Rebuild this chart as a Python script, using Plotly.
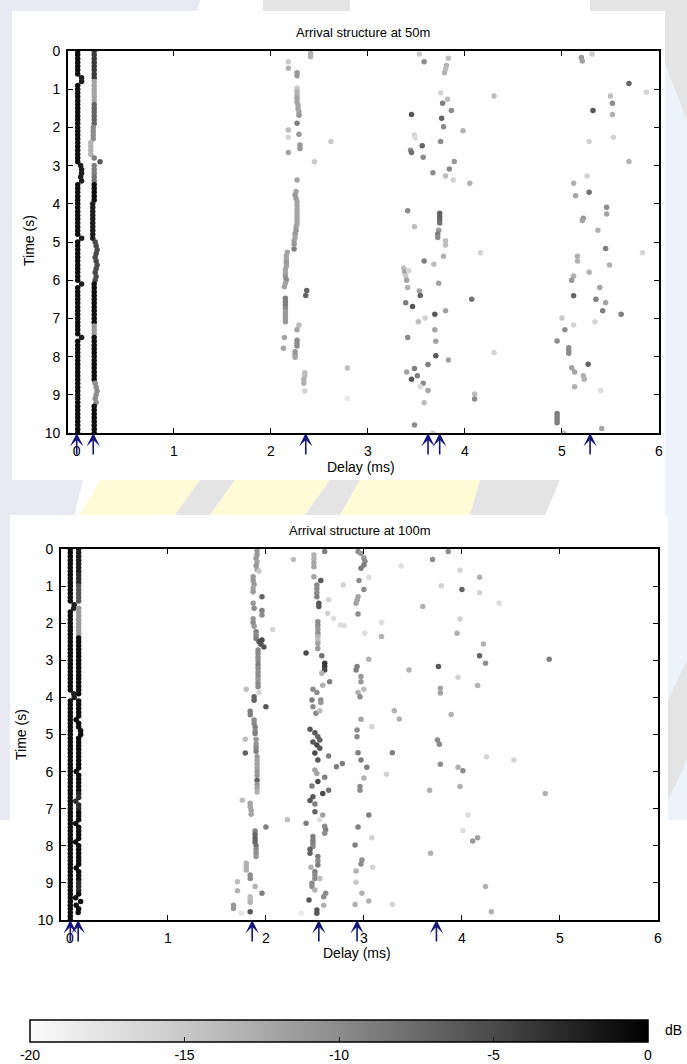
import plotly.graph_objects as go

W, H = 687, 1064
FONT = "Liberation Sans, Arial, sans-serif"

# ---------------- data ----------------
# regular time samples (s) of the two strong, continuous arrivals
T_GRID = [0.0, 0.1, 0.2, 0.3, 0.4, 0.5, 0.6, 0.7, 0.8, 0.9,
          1.0, 1.1, 1.2, 1.3, 1.4, 1.5, 1.6, 1.7, 1.8, 1.9,
          2.0, 2.1, 2.2, 2.3, 2.4, 2.5, 2.6, 2.7, 2.8, 2.9,
          3.0, 3.1, 3.2, 3.3, 3.4, 3.5, 3.6, 3.7, 3.8, 3.9,
          4.0, 4.1, 4.2, 4.3, 4.4, 4.5, 4.6, 4.7, 4.8, 4.9,
          5.0, 5.1, 5.2, 5.3, 5.4, 5.5, 5.6, 5.7, 5.8, 5.9,
          6.0, 6.1, 6.2, 6.3, 6.4, 6.5, 6.6, 6.7, 6.8, 6.9,
          7.0, 7.1, 7.2, 7.3, 7.4, 7.5, 7.6, 7.7, 7.8, 7.9,
          8.0, 8.1, 8.2, 8.3, 8.4, 8.5, 8.6, 8.7, 8.8, 8.9,
          9.0, 9.1, 9.2, 9.3, 9.4, 9.5, 9.6, 9.7, 9.8, 9.9,
          10.0]

# 50 m : direct arrival (A) and first reflection (B) - delay (ms) and level (dB)
D50_A_DELAY = [0.01, 0.01, 0.01, 0.01, 0.01, 0.01, 0.01, 0.05, 0.05, 0.01,
               0.01, 0.01, 0.01, 0.01, 0.01, 0.01, 0.01, 0.01, 0.01, 0.01,
               0.01, 0.01, 0.01, 0.01, 0.01, 0.01, 0.01, 0.01, 0.01, 0.01,
               0.04, 0.05, 0.05, 0.04, 0.05, 0.01, 0.01, 0.01, 0.01, 0.01,
               0.01, 0.01, 0.01, 0.01, 0.01, 0.01, 0.01, 0.01, 0.01, 0.05,
               0.01, 0.01, 0.01, 0.01, 0.01, 0.01, 0.01, 0.01, 0.01, 0.01,
               0.01, 0.05, 0.01, 0.01, 0.01, 0.01, 0.01, 0.01, 0.01, 0.01,
               0.01, 0.01, 0.01, 0.01, 0.01, 0.05, 0.01, 0.01, 0.01, 0.01,
               0.01, 0.01, 0.01, 0.01, 0.01, 0.01, 0.01, 0.01, 0.01, 0.01,
               0.01, 0.01, 0.01, 0.01, 0.01, 0.01, 0.01, 0.01, 0.01, 0.01,
               0.01]
D50_A_DB = [-1, -1, -1, -1, -1, -1, -1, -2, -2, -1,
            -1, -1, -1, -1, -1, -1, -1, -1, -1, -1,
            -1, -1, -1, -1, -1, -1, -1, -1, -1, -1,
            -2, -2, -2, -2, -2, -1, -1, -1, -1, -1,
            -1, -1, -1, -1, -1, -1, -1, -1, -1, -2,
            -1, -1, -1, -1, -1, -1, -1, -1, -1, -1,
            -1, -2, -1, -1, -1, -1, -1, -1, -1, -1,
            -1, -1, -1, -1, -1, -2, -1, -1, -1, -1,
            -1, -1, -1, -1, -1, -1, -1, -1, -1, -1,
            -1, -1, -1, -1, -1, -1, -1, -1, -1, -1,
            -1]
D50_B_DELAY = [0.18, 0.18, 0.18, 0.18, 0.18, 0.18, 0.18, 0.18, 0.18, 0.18,
               0.18, 0.18, 0.18, 0.18, 0.18, 0.18, 0.18, 0.18, 0.18, 0.18,
               0.17, 0.17, 0.17, 0.17, 0.145, 0.145, 0.145, 0.145, 0.18, 0.24,
               0.18, 0.18, 0.18, 0.18, 0.18, 0.18, 0.18, 0.18, 0.18, 0.18,
               0.165, 0.165, 0.165, 0.165, 0.165, 0.165, 0.165, 0.165, 0.165, 0.165,
               0.19, 0.20, 0.21, 0.20, 0.19, 0.20, 0.21, 0.20, 0.19, 0.20,
               0.19, 0.18, 0.18, 0.18, 0.18, 0.18, 0.18, 0.18, 0.18, 0.18,
               0.18, 0.18, 0.18, 0.18, 0.18, 0.18, 0.18, 0.18, 0.18, 0.18,
               0.18, 0.18, 0.18, 0.18, 0.18, 0.18, 0.18, 0.19, 0.20, 0.21,
               0.20, 0.19, 0.20, 0.18, 0.18, 0.18, 0.18, 0.18, 0.18, 0.18,
               0.18]
D50_B_DB = [-4, -4, -4, -4, -4, -4, -4, -4, -12, -12,
            -12, -12, -12, -12, -7, -7, -7, -7, -7, -7,
            -10, -10, -10, -10, -13, -13, -13, -13, -9, -6,
            -9, -9, -9, -8, -8, -1, -1, -1, -1, -1,
            -2, -2, -2, -2, -2, -2, -2, -2, -2, -2,
            -5, -5, -5, -5, -5, -5, -5, -5, -5, -5,
            -5, -1, -1, -1, -1, -1, -1, -1, -1, -1,
            -1, -1, -11, -11, -11, -1, -1, -1, -1, -1,
            -1, -1, -1, -1, -1, -1, -1, -10, -10, -10,
            -10, -10, -10, -1, -1, -1, -1, -1, -1, -1,
            -1]

# 100 m : direct arrival (A) and first reflection (B); None = no detection
D100_A_DELAY = [0.005, 0.005, 0.005, 0.005, 0.005, 0.005, 0.005, 0.005, 0.005, 0.005,
                0.005, 0.005, 0.005, 0.005, 0.005, 0.045, 0.04, 0.005, 0.005, 0.005,
                0.005, 0.005, 0.005, 0.005, 0.005, 0.005, 0.005, 0.005, 0.005, 0.005,
                0.005, 0.005, 0.005, 0.005, 0.005, 0.005, 0.005, 0.005, 0.005, 0.04,
                0.045, 0.005, 0.005, 0.005, 0.005, 0.005, 0.005, 0.005, 0.005, 0.005,
                0.005, 0.005, 0.005, 0.005, 0.005, 0.005, 0.005, 0.005, 0.005, 0.005,
                0.005, 0.005, 0.005, 0.005, 0.005, 0.005, 0.005, 0.005, 0.005, 0.005,
                0.005, 0.005, 0.005, 0.005, 0.005, 0.005, 0.005, 0.005, 0.005, 0.005,
                0.005, 0.005, 0.005, 0.005, 0.005, 0.005, 0.005, 0.005, 0.005, 0.005,
                0.005, 0.005, 0.005, 0.005, 0.005, 0.005, 0.005, 0.005, 0.005, 0.005,
                0.005]
D100_A_DB = [-1, -1, -1, -1, -1, -1, -1, -1, -1, -1,
             -1, -1, -1, -1, -1, -2, -2, -1, -1, -1,
             -1, -1, -1, -1, -1, -1, -1, -1, -1, -1,
             -1, -1, -1, -1, -1, -1, -1, -1, -1, -2,
             -2, -1, -1, -1, -1, -1, -1, -1, -1, -1,
             -1, -1, -1, -1, -1, -1, -1, -1, -1, -1,
             -1, -1, -1, -1, -1, -1, -1, -1, -1, -1,
             -1, -1, -1, -1, -1, -1, -1, -1, -1, -1,
             -1, -1, -1, -1, -1, -1, -1, -1, -1, -1,
             -1, -1, -1, -1, -1, -1, -1, -1, -1, -1,
             -1]
D100_B_DELAY = [0.09, 0.09, 0.09, 0.09, 0.09, 0.09, 0.09, 0.09, 0.09, 0.09,
                0.09, 0.09, 0.09, 0.09, 0.09, None, 0.09, 0.09, 0.09, 0.09,
                0.09, 0.09, 0.09, 0.09, 0.09, 0.09, 0.09, 0.09, 0.09, 0.09,
                0.09, 0.09, 0.09, 0.09, 0.09, 0.09, 0.09, 0.09, 0.09, 0.09,
                None, 0.09, 0.09, 0.09, 0.09, 0.09, 0.065, 0.09, 0.09, 0.11,
                0.11, 0.09, 0.09, 0.09, 0.09, 0.09, 0.09, 0.09, 0.09, 0.09,
                0.065, 0.09, 0.09, 0.09, 0.09, 0.09, 0.09, 0.09, 0.06, 0.09,
                0.09, 0.09, 0.09, 0.09, 0.06, 0.09, 0.09, 0.09, 0.09, 0.06,
                0.09, 0.09, 0.09, 0.09, 0.09, 0.09, 0.065, 0.09, 0.09, 0.09,
                0.09, 0.09, 0.09, 0.09, 0.06, 0.11, 0.065, 0.09, 0.085, None,
                None]
D100_B_DB = [-2, -2, -2, -2, -2, -2, -2, -3, -3, -3,
             -6, -6, -6, -6, -6, -6, -11, -11, -11, -11,
             -11, -11, -11, -11, -1, -1, -1, -1, -1, -1,
             -1, -1, -1, -1, -1, -1, -1, -1, -1, -1,
             -1, -1, -1, -1, -1, -1, -1, -1, -1, -1,
             -1, -1, -1, -1, -1, -1, -1, -1, -1, -1,
             -1, -1, -1, -1, -1, -1, -3, -3, -3, -3,
             -3, -1, -1, -1, -1, -1, -1, -1, -1, -1,
             -1, -1, -1, -1, -1, -1, -1, -1, -1, -1,
             -3, -3, -3, -1, -1, -1, -1, -1, -1, -1,
             -1]

# scattered later arrivals: (delay ms, time s, level dB)
S50_NEAR_2 = [(2.41, 0.06, -13), (2.41, 0.15, -13), (2.18, 0.28, -15), (2.18, 0.45, -13),
              (2.27, 0.57, -11), (2.27, 0.65, -11), (2.27, 0.97, -15), (2.27, 1.06, -13),
              (2.27, 1.15, -13), (2.27, 1.24, -12), (2.27, 1.33, -12), (2.28, 1.42, -12),
              (2.28, 1.51, -12), (2.29, 1.60, -12), (2.29, 1.68, -11), (2.27, 1.89, -9),
              (2.18, 2.07, -14), (2.29, 2.18, -11), (2.18, 2.26, -16), (2.30, 2.46, -11),
              (2.30, 2.55, -11), (2.62, 2.37, -15), (2.18, 2.66, -12), (2.45, 2.90, -15),
              (2.27, 3.38, -12), (2.26, 3.68, -12), (2.25, 3.77, -11), (2.26, 3.86, -11),
              (2.27, 3.95, -12), (2.27, 4.05, -12), (2.27, 4.16, -12), (2.27, 4.25, -12),
              (2.27, 4.34, -12), (2.27, 4.43, -12), (2.27, 4.52, -12), (2.26, 4.61, -12),
              (2.26, 4.70, -11), (2.25, 4.79, -11), (2.25, 4.88, -12), (2.24, 4.97, -12),
              (2.24, 5.05, -11), (2.24, 5.18, -9), (2.17, 5.27, -12), (2.16, 5.36, -12),
              (2.16, 5.45, -12), (2.16, 5.54, -11), (2.16, 5.63, -12), (2.15, 5.72, -12),
              (2.15, 5.81, -12), (2.15, 5.90, -11), (2.16, 5.99, -10), (2.15, 6.08, -12),
              (2.14, 6.17, -12), (2.15, 6.47, -9), (2.15, 6.56, -9), (2.15, 6.65, -9),
              (2.15, 6.74, -10), (2.15, 6.83, -11), (2.15, 6.92, -11), (2.15, 7.01, -11),
              (2.15, 7.09, -11), (2.37, 6.27, -7), (2.36, 6.40, -7), (2.29, 7.17, -14),
              (2.27, 7.30, -12), (2.14, 7.50, -12), (2.13, 7.78, -12), (2.27, 7.57, -10),
              (2.27, 7.66, -10), (2.27, 7.72, -10), (2.25, 7.87, -11), (2.25, 7.95, -11),
              (2.25, 8.02, -12), (2.35, 8.42, -14), (2.35, 8.50, -14), (2.34, 8.60, -13),
              (2.34, 8.70, -13), (2.35, 8.90, -16), (2.79, 8.30, -14), (2.79, 9.10, -18)]
S50_NEAR_35 = [(3.53, 0.08, -15), (3.58, 0.28, -10), (3.83, 0.19, -14), (3.81, 0.38, -13),
               (3.80, 0.47, -14), (3.79, 0.57, -13), (3.75, 1.09, -16), (3.77, 1.37, -9),
               (3.82, 1.26, -14), (3.86, 1.56, -10), (3.45, 1.66, -6), (3.76, 1.76, -7),
               (3.78, 1.98, -10), (3.98, 2.09, -13), (3.48, 2.20, -16), (3.49, 2.28, -17),
               (3.56, 2.48, -7), (3.75, 2.37, -10), (3.44, 2.60, -10), (3.45, 2.66, -8),
               (3.57, 2.78, -10), (3.89, 2.89, -11), (3.84, 3.09, -10), (3.67, 3.19, -10),
               (3.80, 3.27, -14), (3.88, 3.38, -16), (4.05, 3.46, -13), (3.41, 4.18, -10),
               (3.48, 4.60, -14), (3.74, 4.25, -7), (3.74, 4.33, -7), (3.74, 4.41, -7),
               (3.74, 4.50, -8), (3.73, 4.69, -11), (3.72, 4.79, -9), (3.72, 4.88, -10),
               (3.80, 4.97, -14), (3.80, 5.08, -14), (4.30, 1.18, -14), (3.58, 5.50, -9),
               (3.68, 5.58, -14), (3.78, 5.37, -13), (3.37, 5.68, -14), (3.38, 5.78, -12),
               (3.42, 5.75, -16), (3.39, 5.89, -15), (3.40, 6.00, -12), (3.73, 6.08, -12),
               (3.41, 6.19, -13), (3.53, 6.28, -12), (3.54, 6.40, -7), (3.39, 6.59, -9),
               (3.46, 6.69, -6), (3.69, 6.89, -6), (3.80, 6.80, -12), (3.59, 6.99, -16),
               (3.52, 7.09, -14), (3.69, 7.30, -12), (3.41, 7.50, -10), (3.70, 7.60, -12),
               (3.70, 7.98, -6), (3.83, 8.09, -12), (3.62, 8.21, -9), (3.40, 8.40, -12),
               (3.48, 8.31, -9), (3.51, 8.50, -9), (3.45, 8.59, -6), (3.57, 8.70, -10),
               (3.54, 8.79, -17), (3.62, 8.89, -12), (3.58, 9.21, -14), (3.48, 9.79, -10),
               (3.67, 10.0, -16), (4.07, 6.50, -8), (4.30, 7.89, -16), (4.10, 8.98, -14),
               (4.10, 9.11, -10), (4.16, 5.28, -16)]
S50_NEAR_5 = [(5.20, 0.17, -11), (5.21, 0.26, -12), (5.31, 0.08, -15), (5.69, 0.85, -7),
              (5.87, 1.08, -16), (5.50, 1.18, -14), (5.52, 1.37, -10), (5.32, 1.56, -6),
              (5.52, 1.66, -13), (5.53, 2.26, -16), (5.28, 2.37, -16), (5.69, 2.89, -13),
              (5.26, 3.27, -16), (5.12, 3.46, -13), (5.28, 3.70, -8), (5.14, 3.79, -12),
              (5.46, 4.09, -10), (5.46, 4.27, -12), (5.22, 4.38, -11), (5.21, 4.44, -12),
              (5.37, 4.69, -13), (5.45, 5.17, -9), (5.83, 5.28, -16), (5.16, 5.37, -13),
              (5.16, 5.50, -13), (5.49, 5.60, -13), (5.28, 5.79, -13), (5.12, 5.89, -13),
              (5.10, 6.00, -11), (5.39, 6.19, -12), (5.12, 6.41, -7), (5.35, 6.50, -9),
              (5.45, 6.59, -12), (5.42, 6.80, -9), (5.61, 6.89, -9), (5.00, 6.99, -15),
              (5.34, 7.09, -16), (5.12, 7.17, -16), (5.03, 7.30, -10), (4.95, 7.59, -10),
              (5.07, 7.77, -10), (5.07, 7.84, -10), (5.07, 7.91, -10), (5.10, 8.29, -12),
              (5.13, 8.40, -12), (5.27, 8.20, -7), (5.22, 8.50, -13), (5.23, 8.59, -13),
              (5.13, 8.79, -13), (5.40, 8.89, -17), (4.95, 9.49, -9), (4.95, 9.57, -9),
              (4.95, 9.65, -9), (4.95, 9.73, -9), (5.02, 10.0, -15), (5.41, 9.88, -12)]

S100_NEAR_19 = [(1.91, 0.05, -11), (1.91, 0.15, -11), (1.90, 0.25, -11), (1.91, 0.35, -12),
                (1.90, 0.45, -11), (1.91, 0.55, -12), (1.93, 0.60, -15), (1.87, 0.75, -11),
                (1.87, 0.85, -11), (1.88, 0.95, -11), (1.87, 1.05, -12), (1.87, 1.15, -11),
                (1.96, 1.29, -7), (1.87, 1.46, -11), (1.88, 1.60, -10), (1.96, 1.66, -9),
                (1.96, 1.78, -10), (2.07, 2.17, -16), (1.87, 1.88, -11), (1.87, 1.98, -10),
                (1.88, 2.08, -11), (1.90, 2.23, -9), (1.90, 2.32, -10), (1.90, 2.41, -9),
                (1.93, 2.50, -6), (1.95, 2.57, -6), (1.98, 2.64, -6), (1.96, 2.45, -5),
                (1.92, 2.72, -10), (1.92, 2.82, -10), (1.92, 2.92, -10), (1.92, 3.02, -10),
                (1.92, 3.12, -9), (1.92, 3.22, -10), (1.92, 3.32, -10), (1.92, 3.42, -10),
                (1.92, 3.52, -11), (1.92, 3.62, -10), (1.92, 3.71, -10), (1.80, 3.78, -14),
                (1.93, 3.87, -16), (1.88, 3.98, -7), (1.88, 4.08, -7), (2.00, 4.25, -6),
                (1.84, 4.37, -9), (1.84, 4.47, -9), (1.88, 4.61, -10), (1.88, 4.70, -10),
                (1.89, 4.80, -9), (1.89, 4.90, -10), (1.89, 4.97, -9), (1.79, 5.13, -14),
                (1.90, 5.13, -11), (1.90, 5.25, -11), (1.79, 5.50, -7), (1.90, 5.35, -10),
                (1.90, 5.45, -9), (1.91, 5.60, -11), (1.91, 5.70, -12), (1.91, 5.80, -12),
                (1.91, 5.90, -12), (1.91, 6.00, -11), (1.91, 6.10, -11), (1.91, 6.23, -7),
                (1.91, 6.35, -11), (1.91, 6.45, -12), (1.91, 6.55, -13), (1.76, 6.77, -14),
                (1.84, 6.85, -12), (1.84, 6.95, -12), (1.85, 7.05, -12), (1.85, 7.15, -12),
                (2.00, 7.49, -9), (1.89, 7.60, -9), (1.89, 7.70, -7), (1.89, 7.80, -7),
                (1.89, 7.90, -7), (1.90, 8.00, -8), (1.90, 8.10, -10), (1.90, 8.20, -10),
                (1.90, 8.29, -11), (1.80, 8.47, -13), (1.80, 8.56, -13), (1.80, 8.65, -13),
                (1.84, 8.79, -10), (1.84, 8.88, -10), (1.71, 8.97, -14), (1.89, 9.10, -13),
                (1.71, 9.21, -13), (1.96, 9.28, -9), (1.84, 9.37, -14), (1.84, 9.45, -14),
                (1.84, 9.52, -13), (1.67, 9.60, -11), (1.67, 9.69, -11), (1.84, 9.78, -6),
                (1.75, 9.82, -18)]
S100_NEAR_25 = [(2.60, 0.07, -9), (2.49, 0.16, -13), (2.49, 0.26, -13), (2.49, 0.37, -12),
                (2.49, 0.48, -12), (2.28, 0.28, -14), (2.49, 0.75, -12), (2.56, 0.85, -6),
                (2.52, 0.97, -10), (2.52, 1.07, -10), (2.52, 1.18, -10), (2.52, 1.29, -9),
                (2.79, 0.97, -16), (2.64, 1.37, -16), (2.54, 1.46, -6), (2.54, 1.55, -6),
                (2.63, 1.73, -16), (2.69, 1.87, -17), (2.53, 1.96, -10), (2.53, 2.06, -10),
                (2.53, 2.16, -11), (2.53, 2.27, -10), (2.76, 2.05, -17), (2.53, 2.36, -13),
                (2.53, 2.45, -14), (2.53, 2.55, -12), (2.53, 2.68, -11), (2.41, 2.80, -5),
                (2.57, 2.88, -8), (2.60, 3.08, -4), (2.60, 3.17, -4), (2.60, 3.26, -5),
                (2.57, 3.35, -13), (2.65, 3.58, -9), (2.58, 3.67, -13), (2.48, 3.78, -10),
                (2.52, 3.87, -10), (2.47, 4.07, -9), (2.56, 4.07, -10), (2.56, 4.14, -11),
                (2.48, 4.25, -10), (2.51, 4.43, -10), (2.55, 4.36, -14), (2.45, 4.86, -6),
                (2.50, 4.95, -6), (2.53, 5.06, -7), (2.55, 5.15, -7), (2.48, 5.20, -6),
                (2.52, 5.28, -5), (2.55, 5.37, -6), (2.50, 5.50, -5), (2.64, 5.58, -9),
                (2.53, 5.69, -6), (2.72, 5.87, -9), (2.78, 5.78, -9), (2.50, 5.96, -12),
                (2.52, 6.05, -12), (2.60, 6.15, -9), (2.53, 6.27, -5), (2.47, 6.39, -9),
                (2.64, 6.50, -8), (2.58, 6.59, -5), (2.48, 6.68, -6), (2.45, 6.78, -6),
                (2.50, 6.87, -9), (2.50, 7.08, -7), (2.58, 7.17, -12), (2.41, 7.39, -9),
                (2.55, 7.30, -17), (2.60, 7.47, -10), (2.61, 7.57, -9), (2.60, 7.66, -10),
                (2.22, 7.30, -14), (2.48, 7.75, -9), (2.48, 7.85, -9), (2.48, 7.94, -9),
                (2.48, 8.02, -10), (2.45, 8.09, -7), (2.45, 8.20, -7), (2.53, 8.29, -9),
                (2.53, 8.40, -10), (2.53, 8.52, -9), (2.46, 8.58, -13), (2.50, 8.70, -9),
                (2.50, 8.79, -10), (2.50, 8.88, -10), (2.55, 8.88, -14), (2.47, 9.01, -10),
                (2.47, 9.10, -10), (2.50, 9.19, -13), (2.61, 9.28, -10), (2.59, 9.37, -10),
                (2.44, 9.46, -6), (2.59, 9.60, -13), (2.52, 9.73, -6), (2.52, 9.82, -6),
                (2.36, 9.82, -18)]
S100_NEAR_3 = [(2.94, 0.07, -10), (2.97, 0.12, -11), (3.00, 0.24, -11), (3.01, 0.33, -10),
               (3.00, 0.43, -9), (2.97, 0.52, -9), (3.38, 0.46, -17), (3.05, 0.76, -17),
               (2.95, 0.85, -10), (3.00, 1.09, -10), (2.94, 1.29, -12), (2.93, 1.38, -12),
               (2.92, 1.46, -12), (2.94, 1.75, -10), (2.80, 2.07, -17), (3.01, 2.27, -17),
               (3.18, 2.36, -13), (3.18, 1.98, -17), (3.05, 2.97, -13), (2.93, 3.17, -9),
               (2.92, 3.26, -9), (2.97, 3.44, -11), (2.97, 3.58, -11), (2.94, 3.87, -13),
               (2.96, 3.98, -10), (3.00, 3.78, -14), (3.46, 3.26, -13), (3.76, 3.17, -6),
               (3.96, 3.46, -16), (3.78, 3.75, -12), (3.78, 3.88, -12), (4.16, 3.68, -13),
               (4.18, 2.88, -7), (4.24, 3.08, -10), (4.22, 2.56, -13), (4.89, 2.97, -9),
               (3.70, 0.28, -10), (3.86, 0.07, -10), (3.98, 0.57, -16), (3.79, 0.99, -16),
               (4.00, 1.09, -7), (4.18, 0.76, -13), (4.18, 1.18, -16), (3.60, 1.55, -13),
               (4.38, 1.46, -17), (3.98, 1.89, -16), (3.95, 2.27, -13), (3.31, 4.36, -13),
               (3.36, 4.58, -13), (3.08, 4.79, -16), (2.97, 4.59, -12), (2.93, 4.88, -10),
               (2.93, 5.06, -10), (3.89, 4.46, -13), (3.75, 5.15, -10), (3.77, 5.26, -10),
               (2.94, 5.49, -9), (2.97, 5.69, -9), (3.03, 5.88, -9), (3.00, 6.17, -13),
               (2.96, 6.40, -10), (2.96, 6.50, -10), (3.23, 6.07, -16), (3.29, 5.49, -9),
               (3.78, 5.80, -10), (3.67, 6.50, -13), (3.96, 5.88, -13), (4.01, 5.98, -10),
               (3.98, 6.40, -13), (4.25, 5.60, -16), (4.53, 5.69, -16), (4.85, 6.59, -13),
               (3.05, 7.17, -9), (2.94, 7.49, -9), (3.08, 7.78, -16), (2.91, 7.98, -9),
               (2.98, 8.38, -10), (2.97, 8.49, -10), (3.09, 8.58, -16), (2.92, 8.68, -13),
               (2.92, 8.98, -15), (2.98, 9.28, -13), (3.05, 9.49, -13), (2.91, 9.58, -13),
               (3.29, 9.58, -16), (3.68, 8.20, -13), (4.06, 7.17, -17), (4.01, 7.59, -17),
               (4.11, 7.87, -11), (4.16, 7.78, -12), (4.24, 9.10, -13), (4.30, 9.78, -13)]

# predicted arrival delays (ms) marked by arrows
ARROWS_50 = [0.0, 0.17, 2.36, 3.62, 3.74, 5.29]
ARROWS_100 = [0.005, 0.085, 1.86, 2.54, 2.93, 3.74]

TITLES = ["Arrival structure at 50m", "Arrival structure at 100m"]
X_TICKS = [0, 1, 2, 3, 4, 5, 6]
Y_TICKS = [0, 1, 2, 3, 4, 5, 6, 7, 8, 9, 10]
CB_MIN, CB_MAX = -20, 0
CB_TICKS = [-20, -15, -10, -5, 0]
CB_LABELS = ["-20", "-15", "-10", "-5", "0"]


def px(x):
    return x / W


def py(y):
    return 1 - y / H


fig = go.Figure()

MS = 5.5


def add_dense(times, delays, dbs, xa, ya):
    fig.add_trace(go.Scatter(x=delays, y=times, mode="markers",
                             marker=dict(size=MS, color=dbs, coloraxis="coloraxis", line=dict(width=0)),
                             xaxis=xa, yaxis=ya, showlegend=False, hoverinfo="skip"))


def add_sparse(points, xa, ya):
    d = [p[0] for p in points]
    t = [p[1] for p in points]
    c = [p[2] for p in points]
    fig.add_trace(go.Scatter(x=d, y=t, mode="markers",
                             marker=dict(size=MS, color=c, coloraxis="coloraxis", line=dict(width=0)),
                             xaxis=xa, yaxis=ya, showlegend=False, hoverinfo="skip"))


for pts in (S50_NEAR_2, S50_NEAR_35, S50_NEAR_5):
    add_sparse(pts, "x", "y")
add_dense(T_GRID, D50_A_DELAY, D50_A_DB, "x", "y")
add_dense(T_GRID, D50_B_DELAY, D50_B_DB, "x", "y")

for pts in (S100_NEAR_19, S100_NEAR_25, S100_NEAR_3):
    add_sparse(pts, "x2", "y2")
add_dense(T_GRID, D100_A_DELAY, D100_A_DB, "x2", "y2")
add_dense(T_GRID, D100_B_DELAY, D100_B_DB, "x2", "y2")

axis_common = dict(showline=True, linecolor="black", linewidth=1.6, mirror="ticks",
                   ticks="inside", ticklen=5, tickwidth=1.3, tickcolor="black",
                   showgrid=False, zeroline=False, automargin=False,
                   tickfont=dict(family=FONT, size=14, color="black"))

xa = dict(axis_common, range=[-0.09, 6], tickvals=X_TICKS, ticklabelstandoff=4)
ya = dict(axis_common, range=[10, 0], tickvals=Y_TICKS, ticklabelstandoff=3)

annotations = []
# arrows
for d in ARROWS_50:
    annotations.append(dict(x=d, y=10, xref="x", yref="y", text="", showarrow=True,
                            ax=0, ay=23, arrowhead=3, arrowsize=1.4, arrowwidth=1.6,
                            arrowcolor="#14147a", standoff=0))
for d in ARROWS_100:
    annotations.append(dict(x=d, y=10, xref="x2", yref="y2", text="", showarrow=True,
                            ax=0, ay=23, arrowhead=3, arrowsize=1.4, arrowwidth=1.6,
                            arrowcolor="#14147a", standoff=0))

txt = dict(family=FONT, size=13, color="black")
lab = dict(family=FONT, size=14, color="black")


def label(text, x, y, font, angle=0):
    return dict(text=text, x=px(x), y=py(y), xref="paper", yref="paper", showarrow=False,
                font=font, textangle=angle, xanchor="center", yanchor="middle")


annotations += [
    label(TITLES[0], 363, 32, txt),
    label("Delay (ms)", 361, 467, lab),
    label("Time (s)", 29, 241, lab, -90),
    label(TITLES[1], 360, 530, txt),
    label("Delay (ms)", 357, 953, lab),
    label("Time (s)", 21, 735, lab, -90),
    label("dB", 673, 1030, lab),
]


def rect(x0, y0, x1, y1, color):
    return dict(type="rect", xref="paper", yref="paper", x0=px(x0), x1=px(x1), y0=py(y1), y1=py(y0),
                fillcolor=color, line=dict(width=0), layer="below")


def poly(pts, color):
    path = "M " + " L ".join(f"{px(a):.5f},{py(b):.5f}" for a, b in pts) + " Z"
    return dict(type="path", xref="paper", yref="paper", path=path,
                fillcolor=color, line=dict(width=0), layer="below")


LAV = "#e8e9f3"
BLUE = "#edf3fa"
GRAY = "#e4e4e4"
YEL = "#fffbd6"
shapes = [
    poly([(0, 0), (200, 0), (0, 820)], LAV),
    rect(0, 0, 12, 820, LAV),
    rect(665, 0, 687, 820, BLUE),
    poly([(640, 0), (687, 0), (687, 120)], GRAY),
    poly([(263, 0), (350, 0), (350, 11), (263, 11)], GRAY),
    poly([(590, 0), (660, 0), (660, 11), (590, 11)], GRAY),
    # band between the two panels
    poly([(100, 480), (200, 480), (175, 515), (80, 515)], YEL),
    poly([(200, 480), (235, 480), (210, 515), (175, 515)], GRAY),
    poly([(235, 480), (330, 480), (305, 515), (210, 515)], YEL),
    poly([(330, 480), (360, 480), (340, 515), (305, 515)], GRAY),
    poly([(360, 480), (480, 480), (470, 515), (340, 515)], YEL),
    poly([(480, 480), (560, 480), (545, 515), (470, 515)], GRAY),
    poly([(668, 700), (687, 660), (687, 760), (668, 800)], GRAY),
    # white page areas of the two panels
    rect(12, 11, 665, 480, "white"),
    rect(10, 515, 668, 1064, "white"),
]

# small tick marks along the top edge of the colour bar (inside the bar)
CB_X0, CB_X1, CB_TOP = 30, 648, 1020
for v in CB_TICKS[1:-1]:
    xx = CB_X0 + (v - CB_MIN) / (CB_MAX - CB_MIN) * (CB_X1 - CB_X0)
    shapes.append(dict(type="line", xref="paper", yref="paper",
                       x0=px(xx), x1=px(xx), y0=py(CB_TOP), y1=py(CB_TOP + 5),
                       line=dict(color="#222", width=1), layer="above"))

fig.update_layout(
    width=W, height=H,
    autosize=False,
    margin=dict(l=0, r=0, t=0, b=0, pad=0, autoexpand=False),
    paper_bgcolor="white", plot_bgcolor="white",
    xaxis=dict(xa, domain=[px(68), px(659)], anchor="y"),
    yaxis=dict(ya, domain=[py(433), py(51)], anchor="x"),
    xaxis2=dict(xa, domain=[px(61), px(658)], anchor="y2"),
    yaxis2=dict(ya, domain=[py(920), py(549)], anchor="x2"),
    coloraxis=dict(
        cmin=CB_MIN, cmax=CB_MAX,
        colorscale=[[0, "#fbfbfb"], [0.25, "#c9c9c9"], [0.5, "#8c8c8c"],
                    [0.75, "#4a4a4a"], [1, "#000000"]],
        colorbar=dict(orientation="h", x=px((CB_X0 + CB_X1) / 2), xanchor="center",
                      y=py(CB_TOP), yanchor="top", len=CB_X1 - CB_X0, lenmode="pixels",
                      thickness=22, thicknessmode="pixels", xpad=0, ypad=0,
                      outlinewidth=1.5, outlinecolor="black",
                      ticks="inside", ticklen=5, tickcolor="#222",
                      tickvals=CB_TICKS, ticktext=CB_LABELS,
                      tickfont=dict(family=FONT, size=14, color="black")),
    ),
    annotations=annotations,
    shapes=shapes,
    font=dict(family=FONT),
)

fig.write_html("out.html")
